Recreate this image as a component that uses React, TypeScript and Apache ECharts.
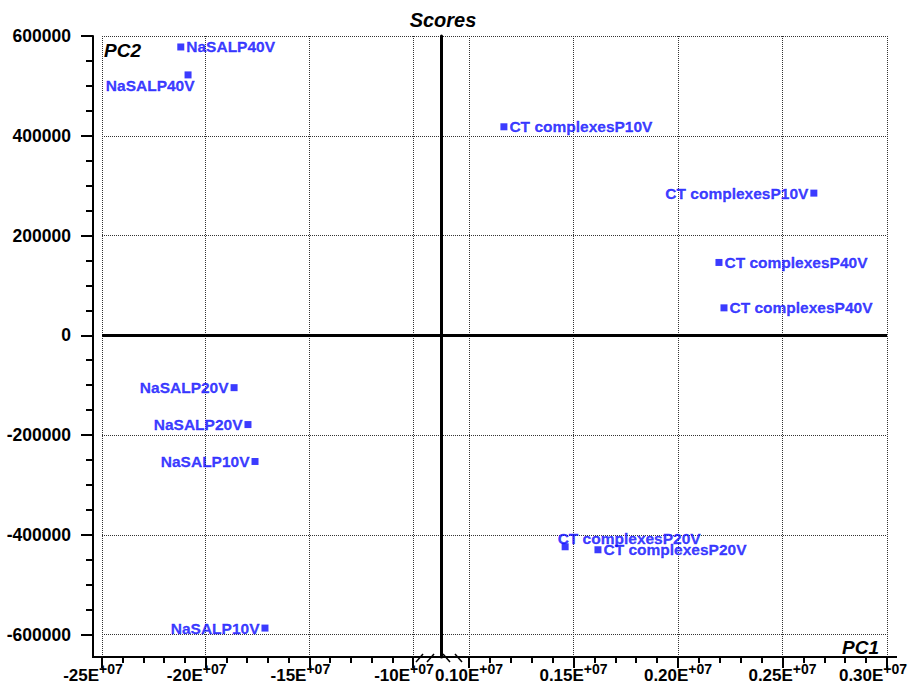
import React, { useEffect, useRef } from "react";
import * as echarts from "echarts";

// ---- data ----
const naNames = ["NaSALP40V", "NaSALP40V", "NaSALP20V", "NaSALP20V", "NaSALP10V", "NaSALP10V"];
const naPC1 = [-21.2, -20.85, -18.63, -17.96, -17.62, -17.14]; // E+07 units, left segment
const naPC2 = [578000, 522000, -105000, -179000, -253000, -587000];

const ctNames = [
  "CT complexesP10V",
  "CT complexesP10V",
  "CT complexesP40V",
  "CT complexesP40V",
  "CT complexesP20V",
  "CT complexesP20V",
];
const ctPC1 = [0.1167, 0.265, 0.2196, 0.222, 0.146, 0.1617]; // E+07 units, right segment
const ctPC2 = [418000, 285000, 146000, 55000, -424000, -430000];

const pc2Ticks = [600000, 400000, 200000, 0, -200000, -400000, -600000];
const pc1LeftTicks = [-25, -20, -15, -10];
const pc1LeftLabels = ["-25", "-20", "-15", "-10"];
const pc1RightTicks = [0.1, 0.15, 0.2, 0.25, 0.3];
const pc1RightLabels = ["0.10", "0.15", "0.20", "0.25", "0.30"];

// ---- label placement (style) ----
const naPlace = ["right", "belowLeft", "left", "left", "left", "left"];
const ctPlace = ["right", "left", "right", "right", "aboveRight", "right"];

// ---- axis extents ----
const Y_MIN = -645000;
const Y_MAX = 600000;
const L_MIN = -25;
const L_MAX = -8.65;
const R_MIN = 0.0866;
const R_MAX = 0.3;

const FONT = '"Liberation Sans", Arial, Helvetica, sans-serif';
const BLUE = "#0a0aff";
const GRID_COLOR = "#333";

function range(a: number, b: number, step: number, scale = 1): number[] {
  const out: number[] = [];
  for (let v = a; v <= b + 1e-9; v += step) out.push(Math.round(v * scale) / scale);
  return out;
}
const minorLeft = range(-24, -11, 1);
const minorRight = range(0.11, 0.29, 0.01, 1000);
const minorY = range(-600000, 600000, 50000);

function closestIndex(arr: number[], v: number) {
  let best = 0;
  for (let i = 1; i < arr.length; i++) if (Math.abs(arr[i] - v) < Math.abs(arr[best] - v)) best = i;
  return best;
}

function labelFor(place: string): any {
  switch (place) {
    case "left":
      return { position: "left", distance: 2 };
    case "belowLeft":
      return { position: [10, 6], align: "right", verticalAlign: "top" };
    case "aboveRight":
      return { position: [-4, 3], align: "left", verticalAlign: "bottom" };
    default:
      return { position: "right", distance: 2 };
  }
}

const supBase = {
  fontSize: 14,
  fontWeight: "bold",
  fontFamily: FONT,
  color: "#000",
  lineHeight: 10,
  verticalAlign: "top",
};
const xRich = {
  m: { fontSize: 17, fontWeight: "bold", fontFamily: FONT, color: "#000", lineHeight: 22, verticalAlign: "bottom" },
  s: { ...supBase },
  sl: { ...supBase, padding: [0, 18, 0, 0] },
  sr: { ...supBase, padding: [0, 28, 0, 0] },
};

const dotted = { color: GRID_COLOR, width: 1, type: [1, 1] as any };

function mainX(gridIndex: number, min: number, max: number, ticks: number[], labels: string[], side: string) {
  return {
    type: "value",
    gridIndex,
    min,
    max,
    position: "bottom",
    axisLine: { show: true, onZero: false, lineStyle: { color: "#000", width: 2 } },
    axisTick: { show: true, customValues: ticks, length: 11, lineStyle: { color: "#000", width: 2 } },
    axisLabel: {
      show: true,
      customValues: ticks,
      margin: 5,
      fontSize: 17,
      fontWeight: "bold",
      fontFamily: FONT,
      color: "#000",
      rich: xRich,
      formatter: (v: number) => {
        const i = closestIndex(ticks, v);
        const st = side === "L" ? "sl" : i === ticks.length - 1 ? "sr" : "s";
        return `{m|${labels[i]}E}{${st}|+07}`;
      },
    },
    splitLine: { show: true, lineStyle: dotted },
  };
}
function minorX(gridIndex: number, min: number, max: number, ticks: number[]) {
  return {
    type: "value",
    gridIndex,
    min,
    max,
    position: "bottom",
    axisLine: { show: false, onZero: false },
    axisTick: { show: true, customValues: ticks, length: 6, lineStyle: { color: "#000", width: 2 } },
    axisLabel: { show: false },
    splitLine: { show: false },
  };
}

export default function App() {
  const ref = useRef<HTMLDivElement>(null);
  useEffect(() => {
    document.body.style.margin = "0";
    if (!ref.current) return;
    const chart = echarts.init(ref.current, null, { renderer: "svg" });
    const textStyle = {
      color: BLUE,
      fontSize: 15.5,
      fontWeight: "bold",
      fontFamily: FONT,
      textBorderColor: BLUE,
      textBorderWidth: 0.3,
    };
    const zeroLine = {
      silent: true,
      symbol: ["none", "none"],
      label: { show: false },
      lineStyle: { color: "#000", width: 3, type: "solid" },
      data: [{ yAxis: 0 }],
    };
    chart.setOption({
      animation: false,
      backgroundColor: "#fff",
      grid: [
        { left: 102, right: 475, top: 36, bottom: 27, containLabel: false, outerBoundsMode: "none" },
        { left: 441, right: 29, top: 36, bottom: 27, containLabel: false, outerBoundsMode: "none" },
      ],
      xAxis: [
        mainX(0, L_MIN, L_MAX, pc1LeftTicks, pc1LeftLabels, "L"),
        minorX(0, L_MIN, L_MAX, minorLeft),
        mainX(1, R_MIN, R_MAX, pc1RightTicks, pc1RightLabels, "R"),
        minorX(1, R_MIN, R_MAX, minorRight),
      ],
      yAxis: [
        {
          type: "value",
          gridIndex: 0,
          min: Y_MIN,
          max: Y_MAX,
          position: "left",
          offset: 9,
          axisLine: { show: true, onZero: false, lineStyle: { color: "#000", width: 2 } },
          axisTick: { show: true, customValues: pc2Ticks, length: 12, lineStyle: { color: "#000", width: 2 } },
          axisLabel: {
            show: true,
            customValues: pc2Ticks,
            margin: 22,
            color: "#000",
            fontSize: 17.5,
            fontWeight: "bold",
            fontFamily: FONT,
            formatter: (v: number) => String(v),
          },
          splitLine: { show: true, lineStyle: dotted },
        },
        {
          type: "value",
          gridIndex: 0,
          min: Y_MIN,
          max: Y_MAX,
          position: "left",
          offset: 9,
          axisLine: { show: false, onZero: false },
          axisTick: { show: true, customValues: minorY, length: 7, lineStyle: { color: "#000", width: 2 } },
          axisLabel: { show: false },
          splitLine: { show: false },
        },
        {
          type: "value",
          gridIndex: 1,
          min: Y_MIN,
          max: Y_MAX,
          position: "left",
          axisLine: { show: true, onZero: false, lineStyle: { color: "#000", width: 3 } },
          axisTick: { show: false, customValues: pc2Ticks },
          axisLabel: { show: false },
          splitLine: { show: true, lineStyle: dotted },
        },
      ],
      series: [
        {
          type: "scatter",
          xAxisIndex: 0,
          yAxisIndex: 0,
          symbol: "rect",
          symbolSize: 7,
          itemStyle: { color: BLUE },
          label: { show: true, formatter: "{b}", ...textStyle },
          data: naPC1.map((x, i) => ({ name: naNames[i], value: [x, naPC2[i]], label: labelFor(naPlace[i]) })),
          markLine: zeroLine,
          z: 5,
        },
        {
          type: "scatter",
          xAxisIndex: 2,
          yAxisIndex: 2,
          symbol: "rect",
          symbolSize: 7,
          itemStyle: { color: BLUE },
          label: { show: true, formatter: "{b}", ...textStyle },
          data: ctPC1.map((x, i) => ({ name: ctNames[i], value: [x, ctPC2[i]], label: labelFor(ctPlace[i]) })),
          markLine: zeroLine,
          z: 5,
        },
      ],
      graphic: [
        {
          type: "text",
          x: 443,
          y: 20,
          style: { text: "Scores", align: "center", verticalAlign: "middle", font: `italic bold 20px ${FONT}`, fill: "#000" },
        },
        {
          type: "text",
          x: 104,
          y: 50,
          style: { text: "PC2", align: "left", verticalAlign: "middle", font: `italic bold 19px ${FONT}`, fill: "#000" },
        },
        {
          type: "text",
          x: 879,
          y: 647,
          style: { text: "PC1", align: "right", verticalAlign: "middle", font: `italic bold 19px ${FONT}`, fill: "#000" },
        },
        { type: "line", shape: { x1: 92, y1: 657, x2: 102, y2: 657 }, style: { stroke: "#000", lineWidth: 2 } },
        { type: "line", shape: { x1: 887, y1: 657, x2: 897, y2: 657 }, style: { stroke: "#000", lineWidth: 2 } },
        { type: "line", shape: { x1: 416, y1: 662, x2: 423, y2: 654 }, style: { stroke: "#000", lineWidth: 1.5 } },
        { type: "line", shape: { x1: 427, y1: 662, x2: 434, y2: 654 }, style: { stroke: "#000", lineWidth: 1.5 } },
        { type: "line", shape: { x1: 443, y1: 654, x2: 450, y2: 662 }, style: { stroke: "#000", lineWidth: 1.5 } },
        { type: "line", shape: { x1: 455, y1: 654, x2: 462, y2: 662 }, style: { stroke: "#000", lineWidth: 1.5 } },
      ],
    });
    return () => chart.dispose();
  }, []);
  return <div ref={ref} style={{ width: 916, height: 684 }} />;
}
